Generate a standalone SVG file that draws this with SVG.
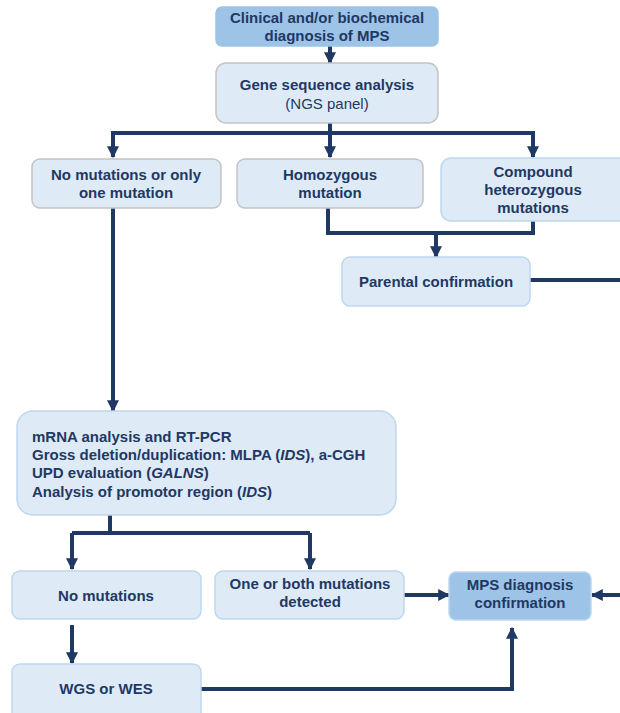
<svg xmlns="http://www.w3.org/2000/svg" width="620" height="713" viewBox="0 0 620 713">
<style>
text{font-family:"Liberation Sans",Arial,sans-serif;font-size:15px;font-weight:bold;fill:#1f3864}
.c{text-anchor:middle}
.n{font-weight:normal}
.box{fill:#deebf7;stroke:#c3c3c3;stroke-width:1.5}
.box2{fill:#deebf7;stroke:#bdd7ee;stroke-width:1.5}
.dark{fill:#9dc3e6;stroke:#bdd7ee;stroke-width:1.5}
.ln{fill:none;stroke:#1f3864;stroke-width:4}
</style>
<defs>
<marker id="ah" viewBox="0 0 10 10" refX="9" refY="5" markerWidth="3" markerHeight="3" orient="auto" markerUnits="strokeWidth">
<path d="M0,0L10,5L0,10Z" fill="#1f3864"/>
</marker>
</defs>
<g id="connectors">
<line class="ln" x1="330" y1="46" x2="330" y2="63" marker-end="url(#ah)"/>
<polyline class="ln" points="330,123 330,133"/>
<polyline class="ln" points="113,157 113,133 533,133 533,157" marker-end="url(#ah)"/>
<line class="ln" x1="113" y1="133" x2="113" y2="157" marker-end="url(#ah)"/>
<line class="ln" x1="330" y1="133" x2="330" y2="157" marker-end="url(#ah)"/>
<polyline class="ln" points="328,208 328,233 533,233 533,220"/>
<line class="ln" x1="436" y1="233" x2="436" y2="257" marker-end="url(#ah)"/>
<line class="ln" x1="530" y1="280" x2="620" y2="280"/>
<line class="ln" x1="113" y1="208" x2="113" y2="411" marker-end="url(#ah)"/>
<polyline class="ln" points="110,515 110,533"/>
<line class="ln" x1="72" y1="533" x2="310" y2="533"/>
<line class="ln" x1="72" y1="533" x2="72" y2="569" marker-end="url(#ah)"/>
<line class="ln" x1="310" y1="533" x2="310" y2="569" marker-end="url(#ah)"/>
<line class="ln" x1="404" y1="595" x2="449" y2="595" marker-end="url(#ah)"/>
<line class="ln" x1="620" y1="595" x2="592" y2="595" marker-end="url(#ah)"/>
<line class="ln" x1="72" y1="625" x2="72" y2="663" marker-end="url(#ah)"/>
<polyline class="ln" points="201,689 512,689 512,628" marker-end="url(#ah)"/>
</g>
<g id="n-clinical">
<rect class="dark" x="216" y="7" width="222" height="39" rx="6" style="stroke:#9dc3e6"/>
<text class="c" x="327" y="23">Clinical and/or biochemical</text>
<text class="c" x="327" y="41">diagnosis of MPS</text>
</g>
<g id="n-gene">
<rect class="box" x="216" y="63" width="222" height="60" rx="10"/>
<text class="c" x="327" y="90">Gene sequence analysis</text>
<text class="c n" x="327" y="109">(NGS panel)</text>
</g>
<g id="n-nomut1">
<rect class="box" x="32" y="159" width="189" height="49" rx="8"/>
<text class="c" x="126" y="180">No mutations or only</text>
<text class="c" x="126" y="198">one mutation</text>
</g>
<g id="n-homo">
<rect class="box" x="237" y="159" width="186" height="49" rx="8"/>
<text class="c" x="330" y="180">Homozygous</text>
<text class="c" x="330" y="198">mutation</text>
</g>
<g id="n-compound">
<rect class="box2" x="441" y="158" width="190" height="63" rx="10"/>
<text class="c" x="533" y="177">Compound</text>
<text class="c" x="533" y="195">heterozygous</text>
<text class="c" x="533" y="213">mutations</text>
</g>
<g id="n-parental">
<rect class="box2" x="342" y="257" width="188" height="49" rx="8"/>
<text class="c" x="436" y="287">Parental confirmation</text>
</g>
<g id="n-mrna">
<rect class="box2" x="17" y="411" width="379" height="104" rx="16"/>
<text x="32" y="442">mRNA analysis and RT-PCR</text>
<text x="32" y="460">Gross deletion/duplication: MLPA (<tspan font-style="italic">IDS</tspan>), a-CGH</text>
<text x="32" y="478">UPD evaluation (<tspan font-style="italic">GALNS</tspan>)</text>
<text x="32" y="497">Analysis of promotor region (<tspan font-style="italic">IDS</tspan>)</text>
</g>
<g id="n-nomut2">
<rect class="box2" x="12" y="571" width="189" height="48" rx="8"/>
<text class="c" x="106" y="601">No mutations</text>
</g>
<g id="n-detected">
<rect class="box2" x="215" y="571" width="189" height="48" rx="8"/>
<text class="c" x="310" y="589">One or both mutations</text>
<text class="c" x="310" y="607">detected</text>
</g>
<g id="n-mps">
<rect class="dark" x="449" y="572" width="142" height="48" rx="7"/>
<text class="c" x="520" y="590">MPS diagnosis</text>
<text class="c" x="520" y="608">confirmation</text>
</g>
<g id="n-wgs">
<rect class="box2" x="12" y="664" width="189" height="56" rx="8"/>
<text class="c" x="106" y="694">WGS or WES</text>
</g>
</svg>
